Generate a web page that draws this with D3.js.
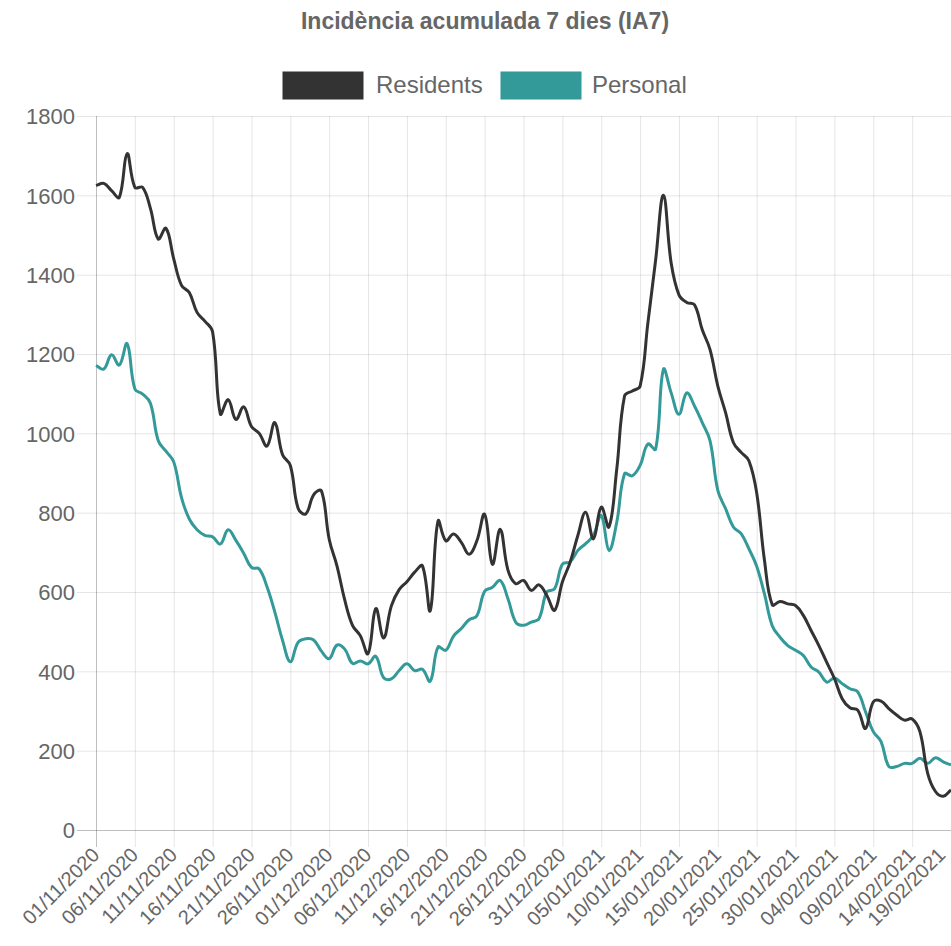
<!DOCTYPE html>
<html>
<head>
<meta charset="utf-8">
<script src="https://cdn.jsdelivr.net/npm/d3@7"></script>
<style>
  html, body { margin: 0; padding: 0; background: #fff; }
  svg { display: block; }
  text { font-family: "Liberation Sans", Arial, Helvetica, sans-serif; }
</style>
</head>
<body>
<svg id="chart" width="951" height="946"></svg>
<script>
// ---------- DATA ----------
const chartTitle = "Incidència acumulada 7 dies (IA7)";
const seriesNames = ["Residents", "Personal"];
const seriesColors = ["#333333", "#339999"];

const startDate = "01/11/2020";
const dayCount = 111; // 01/11/2020 .. 19/02/2021

const tickLabels = [
  "01/11/2020","06/11/2020","11/11/2020","16/11/2020","21/11/2020","26/11/2020",
  "01/12/2020","06/12/2020","11/12/2020","16/12/2020","21/12/2020","26/12/2020",
  "31/12/2020","05/01/2021","10/01/2021","15/01/2021","20/01/2021","25/01/2021",
  "30/01/2021","04/02/2021","09/02/2021","14/02/2021","19/02/2021"
];
const yTicks = [0, 200, 400, 600, 800, 1000, 1200, 1400, 1600, 1800];

const residents = [
  1625,1630,1612,1595,1705,1620,1620,1567,1490,1517,
  1440,1373,1355,1305,1283,1256,1049,1085,1035,1067,
  1017,1000,968,1027,946,919,811,797,845,855,
  733,666,580,516,490,445,558,484,565,606,
  626,650,666,553,779,729,746,725,695,729,
  796,670,758,655,621,629,604,618,591,554,
  625,675,743,801,734,814,764,910,1094,1107,
  1119,1278,1437,1600,1429,1349,1330,1324,1261,1211,
  1119,1052,977,952,931,850,680,568,576,570,
  566,541,503,465,423,382,331,308,302,256,
  323,325,306,290,277,280,248,143,97,85,
  101
];

const personal = [
  1171,1162,1198,1172,1226,1112,1099,1076,982,955,
  928,838,784,757,743,739,721,757,730,698,
  662,658,613,550,478,424,473,482,479,451,
  432,466,456,420,426,419,438,384,381,402,
  419,402,405,375,461,453,489,508,530,540,
  602,612,629,583,524,516,524,533,600,608,
  670,676,705,722,743,793,705,776,898,893,
  919,973,960,1161,1102,1048,1102,1069,1027,981,
  856,810,764,747,709,665,595,515,486,465,
  453,440,411,398,373,383,369,356,348,298,
  248,223,160,160,168,168,181,168,182,172,
  164
];

// ---------- CATEGORIES ----------
const parse = d3.timeParse("%d/%m/%Y");
const fmt = d3.timeFormat("%d/%m/%Y");
const categories = d3.range(dayCount).map(i => fmt(d3.timeDay.offset(parse(startDate), i)));

// ---------- LAYOUT ----------
const svg = d3.select("#chart");
const plot = { left: 96, right: 951, top: 116, bottom: 830 };
const textColor = "#666666";
const gridColor = "rgba(0,0,0,0.1)";
const axisColor = "rgba(0,0,0,0.25)";

const x = d3.scalePoint().domain(categories).range([plot.left, plot.right]);
const y = d3.scaleLinear().domain([0, 1800]).range([plot.bottom, plot.top]);

// Title
svg.append("text")
  .attr("x", 485).attr("y", 29)
  .attr("text-anchor", "middle")
  .attr("fill", textColor)
  .style("font-size", "23px").style("font-weight", "bold")
  .text(chartTitle);

// Legend
const legendItems = [
  { name: seriesNames[0], color: seriesColors[0], bx: 283, tx: 376 },
  { name: seriesNames[1], color: seriesColors[1], bx: 501, tx: 592 }
];
const lg = svg.append("g");
legendItems.forEach(it => {
  lg.append("rect")
    .attr("x", it.bx).attr("y", 72).attr("width", 80).attr("height", 27)
    .attr("fill", it.color).attr("stroke", it.color).attr("stroke-width", 1);
  lg.append("text")
    .attr("x", it.tx).attr("y", 93)
    .attr("fill", textColor)
    .style("font-size", "24px")
    .text(it.name);
});

// Y grid + axis
const yAxis = d3.axisLeft(y).tickValues(yTicks).tickFormat(d3.format("d"))
  .tickSize(-(plot.right - plot.left)).tickPadding(22).tickSizeOuter(0);
const yg = svg.append("g").attr("transform", `translate(${plot.left},0)`).call(yAxis);
yg.select(".domain").remove();
yg.selectAll(".tick line").attr("stroke", gridColor).attr("x1", -19);
yg.selectAll(".tick line").filter(d => d === 0).attr("stroke", axisColor);
yg.selectAll(".tick text")
  .attr("fill", textColor).attr("x", -21).attr("dy", "0.36em")
  .style("font-size", "22px").style("font-family", "'Liberation Sans', Arial, sans-serif");

// X grid + axis
const xAxis = d3.axisBottom(x).tickValues(tickLabels)
  .tickSize(-(plot.bottom - plot.top)).tickSizeOuter(0);
const xg = svg.append("g").attr("transform", `translate(0,${plot.bottom})`).call(xAxis);
xg.select(".domain").remove();
xg.selectAll(".tick line").attr("stroke", gridColor).attr("y1", 17);
xg.selectAll(".tick line").filter((d, i) => i === 0).attr("stroke", axisColor);
const lastIdx = tickLabels.length - 1;
xg.selectAll(".tick text")
  .attr("fill", textColor)
  .attr("text-anchor", "end")
  .attr("transform", (d, i) => i === lastIdx ? "translate(-10,21) rotate(-45)" : "translate(-1,21) rotate(-45)")
  .attr("x", 0).attr("y", 0).attr("dy", "0.36em")
  .style("font-size", "20px").style("font-family", "'Liberation Sans', Arial, sans-serif");

// Chart.js-like spline curve (tension 0.4, distance weighted)
function chartjsCurve(context) {
  let pts = [];
  return {
    areaStart() {}, areaEnd() {},
    lineStart() { pts = []; },
    point(px, py) { pts.push([+px, +py]); },
    lineEnd() {
      const t = 0.4, n = pts.length;
      if (!n) return;
      const cps = pts.map((p, i) => {
        const prev = pts[Math.max(0, i - 1)], next = pts[Math.min(n - 1, i + 1)];
        const d01 = Math.hypot(p[0] - prev[0], p[1] - prev[1]);
        const d12 = Math.hypot(next[0] - p[0], next[1] - p[1]);
        let s01 = d01 / (d01 + d12), s12 = d12 / (d01 + d12);
        if (!isFinite(s01)) s01 = 0; if (!isFinite(s12)) s12 = 0;
        const fa = t * s01, fb = t * s12;
        return {
          prevX: p[0] - fa * (next[0] - prev[0]), prevY: p[1] - fa * (next[1] - prev[1]),
          nextX: p[0] + fb * (next[0] - prev[0]), nextY: p[1] + fb * (next[1] - prev[1])
        };
      });
      context.moveTo(pts[0][0], pts[0][1]);
      for (let i = 1; i < n; i++) {
        context.bezierCurveTo(cps[i - 1].nextX, cps[i - 1].nextY, cps[i].prevX, cps[i].prevY, pts[i][0], pts[i][1]);
      }
    }
  };
}

const line = d3.line()
  .x((d, i) => x(categories[i]))
  .y(d => y(d))
  .curve(chartjsCurve);

svg.append("clipPath").attr("id", "plotclip")
  .append("rect").attr("x", plot.left - 2).attr("y", plot.top - 4)
  .attr("width", plot.right - plot.left + 4).attr("height", plot.bottom - plot.top + 6);

const lines = svg.append("g").attr("clip-path", "url(#plotclip)");
[personal, residents].forEach((s, k) => {
  lines.append("path")
    .datum(s)
    .attr("d", line)
    .attr("fill", "none")
    .attr("stroke", k === 0 ? seriesColors[1] : seriesColors[0])
    .attr("stroke-width", 3)
    .attr("stroke-linejoin", "round");
});
</script>
</body>
</html>
